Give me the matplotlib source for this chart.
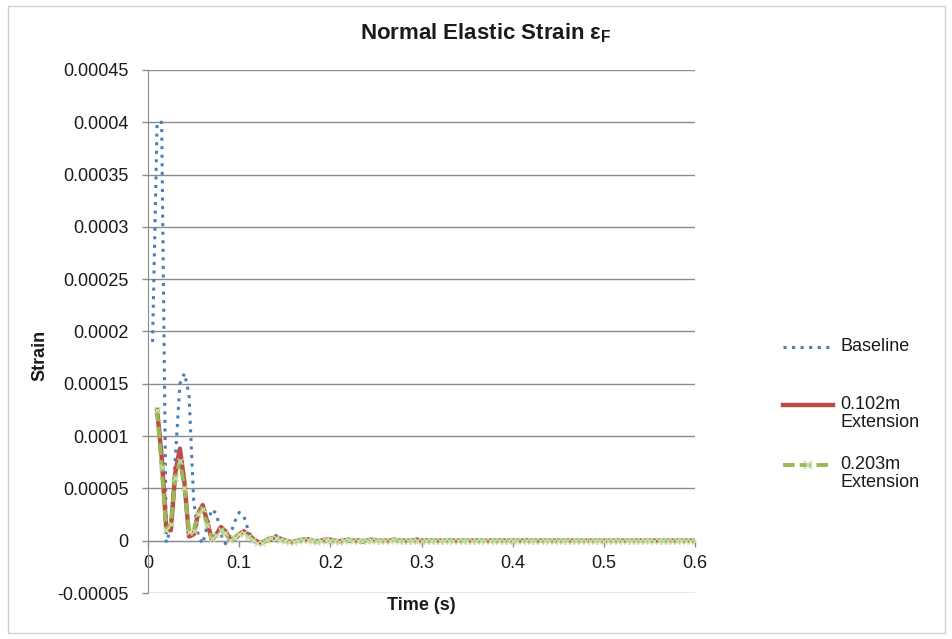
import numpy as np
import matplotlib
matplotlib.use("Agg")
import matplotlib.pyplot as plt
from matplotlib.lines import Line2D
from matplotlib.patches import Rectangle

plt.rcParams['font.family'] = ['Liberation Sans', 'DejaVu Sans']

# Sample times (s), 5 ms step
time_s = np.round(np.arange(1, 121) * 0.005, 3)

# Strain values in units of 1e-5
baseline_e5 = [
    19, 40, 40, -0.2, 1.2, 8, 15, 16, 14, 4,
    0.5, -0.3, 1.5, 3, 2.6, 0.6, -0.3, 0.5, 1.8, 2.7,
    2.4, 1.0, 0.1, -0.4, -0.3, 0.1, 0.4, 0.5, 0.3, 0.1,
    -0.1, -0.2, -0.1, 0.1, 0.2, 0.1, 0.0, -0.1, -0.1, 0.0,
    0.1, 0.1, 0.0, -0.1, 0.0, 0.1, 0.1, 0.0, -0.1, 0.0,
    0.1, 0.0, 0.0, -0.1, 0.0, 0.1, 0.0, 0.0, -0.1, 0.0,
    0.1, 0.0, 0.0, 0.0, 0.0, 0.1, 0.0, 0.0, -0.1, 0.0,
    0.0, 0.1, 0.0, 0.0, 0.0, 0.0, 0.1, 0.0, 0.0, 0.0,
    0.0, 0.0, 0.1, 0.0, 0.0, 0.0, 0.0, 0.0, 0.0, 0.0,
    0.0, 0.1, 0.0, 0.0, 0.0, 0.0, 0.0, 0.0, 0.0, 0.0,
    0.0, 0.0, 0.0, 0.0, 0.0, 0.0, 0.0, 0.0, 0.0, 0.0,
    0.0, 0.0, 0.0, 0.0, 0.0, 0.0, 0.0, 0.0, 0.0, 0.0,
]
ext_0102_e5 = [
    np.nan, 12.5, 8, 1.2, 1.0, 6.5, 8.8, 5.5, 0.4, 0.6,
    2.6, 3.4, 1.8, 0.1, 0.6, 1.3, 0.9, 0.1, 0.2, 0.6,
    0.9, 0.6, 0.2, -0.1, -0.2, 0.0, 0.2, 0.3, 0.2, 0.0,
    -0.1, -0.1, 0.0, 0.1, 0.1, 0.0, -0.1, 0.0, 0.1, 0.1,
    0.0, -0.1, 0.0, 0.1, 0.0, 0.0, -0.1, 0.0, 0.1, 0.0,
    0.0, 0.0, 0.0, 0.1, 0.0, 0.0, 0.0, 0.0, 0.1, 0.0,
    0.0, 0.0, 0.0, 0.0, 0.0, 0.0, 0.0, 0.0, 0.0, 0.0,
    0.0, 0.0, 0.0, 0.0, 0.0, 0.0, 0.0, 0.0, 0.0, 0.0,
    0.0, 0.0, 0.0, 0.0, 0.0, 0.0, 0.0, 0.0, 0.0, 0.0,
    0.0, 0.0, 0.0, 0.0, 0.0, 0.0, 0.0, 0.0, 0.0, 0.0,
    0.0, 0.0, 0.0, 0.0, 0.0, 0.0, 0.0, 0.0, 0.0, 0.0,
    0.0, 0.0, 0.0, 0.0, 0.0, 0.0, 0.0, 0.0, 0.0, 0.0,
]
ext_0203_e5 = [
    np.nan, 12.5, 7, 1.0, 1.6, 6, 7.6, 5, 0.8, 0.9,
    2.6, 3.0, 1.5, 0.2, 0.5, 1.0, 0.7, 0.1, 0.3, 0.6,
    0.7, 0.4, 0.1, -0.2, -0.2, 0.1, 0.3, 0.3, 0.1, 0.0,
    -0.1, -0.1, 0.0, 0.1, 0.1, 0.0, -0.1, 0.0, 0.1, 0.0,
    0.0, -0.1, 0.0, 0.1, 0.0, 0.0, 0.0, 0.0, 0.1, 0.0,
    0.0, 0.0, 0.0, 0.1, 0.0, 0.0, 0.0, 0.0, 0.0, 0.0,
    0.0, 0.0, 0.0, 0.0, 0.0, 0.0, 0.0, 0.0, 0.0, 0.0,
    0.0, 0.0, 0.0, 0.0, 0.0, 0.0, 0.0, 0.0, 0.0, 0.0,
    0.0, 0.0, 0.0, 0.0, 0.0, 0.0, 0.0, 0.0, 0.0, 0.0,
    0.0, 0.0, 0.0, 0.0, 0.0, 0.0, 0.0, 0.0, 0.0, 0.0,
    0.0, 0.0, 0.0, 0.0, 0.0, 0.0, 0.0, 0.0, 0.0, 0.0,
    0.0, 0.0, 0.0, 0.0, 0.0, 0.0, 0.0, 0.0, 0.0, 0.0,
]

y_ticks = [-0.00005, 0, 0.00005, 0.0001, 0.00015, 0.0002, 0.00025,
           0.0003, 0.00035, 0.0004, 0.00045]
y_tick_labels = ["-0.00005", "0", "0.00005", "0.0001", "0.00015", "0.0002",
                 "0.00025", "0.0003", "0.00035", "0.0004", "0.00045"]
x_ticks = [0, 0.1, 0.2, 0.3, 0.4, 0.5, 0.6]
x_tick_labels = ["0", "0.1", "0.2", "0.3", "0.4", "0.5", "0.6"]

series_labels = ["Baseline", "0.102m\nExtension", "0.203m\nExtension"]

BLUE = "#4A7EBB"
RED = "#BE4B48"
GREEN = "#98B954"
GREEN_MARK = "#C9DDA6"
GRID = "#8C8C8C"
TEXT = "#1A1A1A"

W, H = 952, 639
fig = plt.figure(figsize=(W / 100, H / 100), dpi=100)
fig.patch.set_facecolor("white")

# outer chart frame
fig.add_artist(Rectangle((8 / W, 1 - 633 / H), (945 - 8) / W, (633 - 6) / H,
                         transform=fig.transFigure, fill=False,
                         edgecolor="#D0D0D0", lw=1.0))

ax = fig.add_axes([148 / W, 1 - 593 / H, (695 - 148) / W, (593 - 70) / H])

baseline = np.array(baseline_e5) * 1e-5
ext1 = np.array(ext_0102_e5) * 1e-5
ext2 = np.array(ext_0203_e5) * 1e-5

ax.plot(time_s, baseline, color=BLUE, lw=2.2, linestyle=(0, (1, 1.8)), zorder=3)
ax.plot(time_s, ext1, color=RED, lw=3.2, zorder=4)
ax.plot(time_s, ext2, color=GREEN, lw=2.8, linestyle=(0, (3, 1.3)),
        marker="x", markersize=4.5, markeredgecolor=GREEN_MARK,
        markeredgewidth=1.0, zorder=5)

ax.set_xlim(0, 0.6)
ax.set_ylim(-0.00005, 0.00045)
ax.set_yticks(y_ticks)
ax.set_yticklabels(y_tick_labels)
ax.set_xticks(x_ticks)
ax.set_xticklabels(x_tick_labels)

ax.grid(axis="y", color=GRID, lw=1.0)
ax.grid(axis="x", visible=False)
ax.set_axisbelow(True)

for s in ("top", "right"):
    ax.spines[s].set_visible(False)
ax.spines["left"].set_color(GRID)
ax.spines["bottom"].set_position(("data", 0))
ax.spines["bottom"].set_color(GRID)
ax.tick_params(axis="both", colors=GRID, labelcolor=TEXT, labelsize=13,
               length=4, width=1)
ax.tick_params(axis="x", pad=6)
ax.tick_params(axis="y", pad=10)

fig.text(486 / W, 1 - 33 / H, "Normal Elastic Strain ε$_\\mathregular{F}$",
         ha="center", va="center", fontsize=16, fontweight="bold", color=TEXT)
fig.text(40 / W, 1 - 355 / H, "Strain", rotation=90, ha="center",
         va="center", fontsize=13, fontweight="bold", color=TEXT)
fig.text(421 / W, 1 - 606 / H, "Time (s)", ha="center", va="center",
         fontsize=13, fontweight="bold", color=TEXT)

# legend
leg_handles = [
    Line2D([783 / W, 833 / W], [1 - 347 / H] * 2, color=BLUE, lw=2.2,
           linestyle=(0, (1, 1.8)), transform=fig.transFigure),
    Line2D([783 / W, 833 / W], [1 - 405 / H] * 2, color=RED, lw=3.2,
           transform=fig.transFigure),
    Line2D([783 / W, 833 / W], [1 - 465 / H] * 2, color=GREEN, lw=2.8,
           linestyle=(0, (3, 1.3)), transform=fig.transFigure),
    Line2D([808 / W], [1 - 465 / H], color=GREEN, marker="x", markersize=6,
           markeredgecolor=GREEN_MARK, markeredgewidth=1.2, lw=0,
           transform=fig.transFigure),
]
for h in leg_handles:
    fig.add_artist(h)
for label, y in zip(series_labels, [347, 405, 465]):
    fig.text(840 / W, 1 - (y - 9) / H, label, ha="left", va="top",
             fontsize=13, linespacing=1.1, color=TEXT)

fig.savefig("out.png", dpi=100)
